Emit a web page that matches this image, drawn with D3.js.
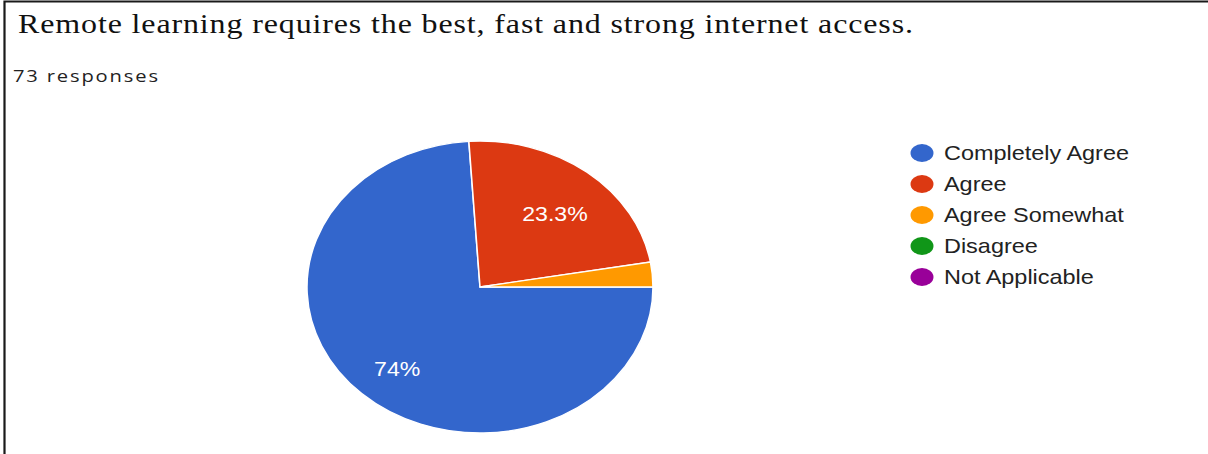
<!DOCTYPE html>
<html>
<head>
<meta charset="utf-8">
<script src="https://cdn.jsdelivr.net/npm/d3@7/dist/d3.min.js"></script>
<style>
  html, body { margin: 0; padding: 0; background: #fff; }
  svg { display: block; }
</style>
</head>
<body>
<svg id="chart" width="1208" height="454"></svg>
<script>
// Survey answers (73 responses)
const categories = ["Completely Agree", "Agree", "Agree Somewhat", "Disagree", "Not Applicable"];
const counts = [54, 17, 2, 0, 0];
const colors = ["#3366cc", "#dc3912", "#ff9900", "#109618", "#990099"];
const titleText = "Remote learning requires the best, fast and strong internet access.";
const subtitleText = "73 responses";

const W = 1208, H = 454;
const sx = 1.185; // horizontal stretch of the whole panel

const svg = d3.select("#chart");

// Frame lines (top and left)
svg.append("path")
  .attr("d", `M4.5,454 V1.5 H${W}`)
  .attr("fill", "none")
  .attr("stroke", "#1a1a1a")
  .attr("stroke-width", 2.2);

const g = svg.append("g").attr("transform", `scale(${sx},1)`);

g.append("text")
  .attr("x", 18 / sx).attr("y", 33)
  .attr("font-family", "'Liberation Serif', 'Times New Roman', serif")
  .attr("font-size", 27)
  .attr("textLength", (913 - 18) / sx)
  .attr("lengthAdjust", "spacing")
  .attr("fill", "#111")
  .text(titleText);

g.append("text")
  .attr("x", 13 / sx).attr("y", 82)
  .attr("font-family", "'Open Sans', 'Noto Sans', sans-serif")
  .attr("font-size", 17)
  .attr("textLength", (158 - 13) / sx)
  .attr("lengthAdjust", "spacing")
  .attr("fill", "#222")
  .text(subtitleText);

// Pie
const cx = 480 / sx, cy = 287, R = 146;
const total = d3.sum(counts);
const data = categories.map((c, i) => ({ name: c, value: counts[i], color: colors[i] }));

const pie = d3.pie()
  .value(d => d.value)
  .sort(null)
  .startAngle(Math.PI / 2)
  .endAngle(Math.PI / 2 + 2 * Math.PI);

const arcs = pie(data);
const arc = d3.arc().innerRadius(0).outerRadius(R);
const labelArc = d3.arc().innerRadius(R * 0.7).outerRadius(R * 0.7);

const pg = g.append("g").attr("transform", `translate(${cx},${cy})`);

pg.selectAll("path.slice")
  .data(arcs.filter(a => a.value > 0))
  .join("path")
  .attr("class", "slice")
  .attr("d", arc)
  .attr("fill", d => d.data.color)
  .attr("stroke", "#fff")
  .attr("stroke-width", 1.3);

const pct = v => {
  const p = v / total * 100;
  return (Math.round(p * 10) / 10).toString() + "%";
};

pg.selectAll("text.lbl")
  .data(arcs.filter(a => a.value / total > 0.05))
  .join("text")
  .attr("class", "lbl")
  .attr("transform", d => {
    const [x, y] = labelArc.centroid(d);
    return `translate(${x},${y + 7})`;
  })
  .attr("text-anchor", "middle")
  .attr("dy", "0.36em")
  .attr("font-family", "'Liberation Sans', Arial, sans-serif")
  .attr("font-size", 19.5)
  .attr("fill", "#fff")
  .text(d => pct(d.value));

// Legend
const lg = g.append("g");
const legendX = 922 / sx, legendY0 = 153, legendStep = 31;
const items = lg.selectAll("g.item")
  .data(data)
  .join("g")
  .attr("class", "item")
  .attr("transform", (d, i) => `translate(${legendX},${legendY0 + i * legendStep})`);

items.append("ellipse")
  .attr("rx", 9.7).attr("ry", 9)
  .attr("fill", d => d.color);

items.append("text")
  .attr("x", (944 - 922) / sx)
  .attr("y", 0)
  .attr("dy", "0.36em")
  .attr("font-family", "'Liberation Sans', Arial, sans-serif")
  .attr("font-size", 19.8)
  .attr("fill", "#222")
  .text(d => d.name);
</script>
</body>
</html>
